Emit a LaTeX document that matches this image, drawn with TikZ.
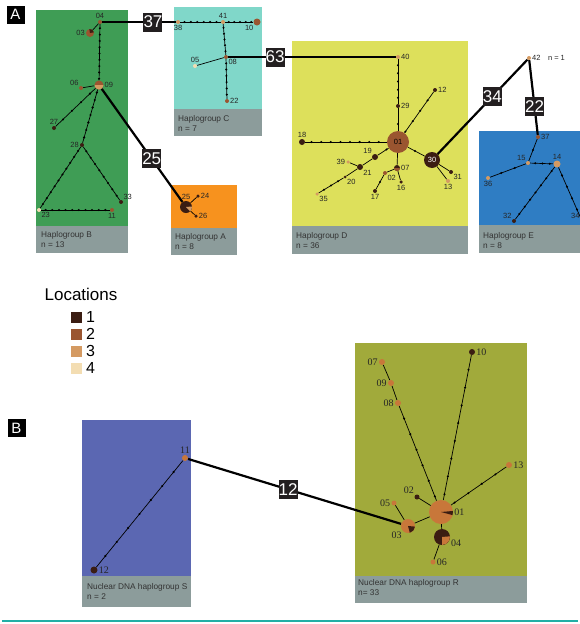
\documentclass[tikz,border=0pt]{standalone}
\usepackage{fontspec}
\setmainfont{Liberation Sans}
\newfontfamily\nucfont{Liberation Serif}
\usetikzlibrary{calc,backgrounds}

\definecolor{loc1}{HTML}{3B1D12}
\definecolor{loc2}{HTML}{9A5530}
\definecolor{loc3}{HTML}{D49A62}
\definecolor{loc4}{HTML}{F3DDB2}
\definecolor{nucor}{HTML}{C8773A}
\definecolor{grpA}{HTML}{F7921E}
\definecolor{grpB}{HTML}{3F9D55}
\definecolor{grpC}{HTML}{80D7C9}
\definecolor{grpD}{HTML}{DDE05B}
\definecolor{grpE}{HTML}{2F7DC3}
\definecolor{grpS}{HTML}{5B67B2}
\definecolor{grpR}{HTML}{A1AA3B}
\definecolor{capgrey}{HTML}{8C9C9B}
\definecolor{boxdark}{HTML}{231F20}
\definecolor{footteal}{HTML}{22AFA6}

\tikzset{
  hap/.style={circle, inner sep=0pt, minimum size=#1},
  hap/.default=4pt,
  lab/.style={font=\fontsize{7.5}{8}\selectfont, text=black!85, inner sep=0.8pt},
  nlab/.style={font=\nucfont\fontsize{10}{10}\selectfont, text=black!85, inner sep=1pt},
  link/.style={line width=0.7pt},
  biglink/.style={line width=2.2pt},
  mutbox/.style={fill=boxdark, text=white, font=\fontsize{17}{17}\selectfont, inner sep=0pt, minimum width=19pt, minimum height=19pt},
  grptxt/.style={anchor=west, align=left, font=\fontsize{8.3}{10}\selectfont, text=black!80, inner sep=0pt},
  legsq/.style={minimum size=11pt, inner sep=0pt},
  legtxt/.style={anchor=west, font=\fontsize{16}{16}\selectfont, inner sep=0pt},
  panel/.style={fill=black, text=white, font=\fontsize{15}{15}\selectfont, minimum size=18pt, inner sep=0pt}
}

% dots for the mutation steps on an edge
\newcommand\mutsteps[3]{\foreach \k in {1,...,#3}{\fill ($(#1)!{\k/(#3+1)}!(#2)$) circle (1.15pt);}}
% one slice of a pie node
\newcommand\piepart[5]{\fill[#5] (#1.center) -- ++(#2:#4) arc[start angle=#2, end angle=#3, radius=#4] -- cycle;}

\begin{document}
\begin{tikzpicture}[x=1pt,y=-1pt]
\useasboundingbox (0,0) rectangle (580,624);

\begin{pgfonlayer}{background}
  \fill[white] (0,0) rectangle (580,624);
  % haplogroup boxes
  \fill[grpB] (36,10) rectangle (128,226);   \fill[capgrey] (36,226) rectangle (128,253);
  \fill[grpC] (174,7) rectangle (262,109);   \fill[capgrey] (174,109) rectangle (262,136);
  \fill[grpA] (171,185) rectangle (237,228); \fill[capgrey] (171,228) rectangle (237,255);
  \fill[grpD] (292,41) rectangle (468,226);  \fill[capgrey] (292,226) rectangle (468,254);
  \fill[grpE] (479,131) rectangle (590,225); \fill[capgrey] (479,225) rectangle (590,253);
  \fill[grpS] (82,420) rectangle (191,576);  \fill[capgrey] (82,576) rectangle (191,607);
  \fill[grpR] (355,343) rectangle (527,576); \fill[capgrey] (355,576) rectangle (527,603);
\end{pgfonlayer}

\node[panel] (pA) at (15.5,14.5) {A};
\node[panel] (pB) at (16.5,428) {B};

% haplogroup B
\node[hap, fill=loc2, label={[lab]above:04}] (B04) at (100,22) {};
\node[hap=8pt, fill=loc2, label={[lab]left:03}] (B03) at (90,33) {};
\node[hap=9pt, fill=loc2, label={[lab]right:09}] (B09) at (99,85) {};
\node[hap, fill=loc2, label={[lab]above left:06}] (B06) at (81,88) {};
\node[hap, fill=loc1, label={[lab]above:27}] (B27) at (54,128) {};
\node[hap, fill=loc1, label={[lab]left:28}] (B28) at (82,145) {};
\node[hap, fill=loc4, label={[lab]below right:23}] (B23) at (39,210) {};
\node[hap, fill=loc2, label={[lab]below:11}] (B11) at (112,210) {};
\node[hap, fill=loc1, label={[lab]above right:33}] (B33) at (121,202) {};
\node[grptxt] (capB) at (41,240) {Haplogroup B\\n = 13};

% haplogroup C
\node[hap, fill=loc3, label={[lab]below:38}] (C38) at (178,22) {};
\node[hap, fill=loc3, label={[lab]above:41}] (C41) at (223,22) {};
\node[hap=7pt, fill=loc2, label={[lab]below left:10}] (C10) at (257,22) {};
\node[hap, fill=loc2, label={[lab]below right:08}] (C08) at (226,57) {};
\node[hap, fill=loc4, label={[lab]above:05}] (C05) at (195,66) {};
\node[hap, fill=loc2, label={[lab]right:22}] (C22) at (227,101) {};
\node[grptxt] (capC) at (178,123) {Haplogroup C\\n = 7};

% haplogroup A
\node[hap=12pt, fill=loc1, label={[lab]above:25}] (A25) at (186,207) {};
\node[hap=3.5pt, fill=loc1, label={[lab]right:24}] (A24) at (198,196) {};
\node[hap=3.5pt, fill=loc1, label={[lab]right:26}] (A26) at (196,216) {};
\node[grptxt] (capA) at (175,242) {Haplogroup A\\n = 8};

% haplogroup D
\node[hap, fill=loc3, label={[lab]right:40}] (D40) at (398,57) {};
\node[hap, fill=loc1, label={[lab]right:29}] (D29) at (398,106) {};
\node[hap, fill=loc1, label={[lab]right:12}] (D12) at (435,90) {};
\node[hap=6pt, fill=loc1, label={[lab]above:18}] (D18) at (302,142) {};
\node[hap=22pt, fill=loc2, font=\fontsize{7.5}{8}\selectfont] (D01) at (398,142) {01};
\node[hap=6pt, fill=loc1, label={[lab]above left:19}] (D19) at (375,157) {};
\node[hap=6pt, fill=loc1, label={[lab]below right:21}] (D21) at (360,167) {};
\node[hap=3.5pt, fill=loc3, label={[lab]left:39}] (D39) at (348,162) {};
\node[hap=3pt, fill=loc1, label={[lab]below right:20}] (D20) at (345,177) {};
\node[hap=3.5pt, fill=loc3, label={[lab]below right:35}] (D35) at (317,194) {};
\node[hap=6pt, fill=loc1, label={[lab]right:07}] (D07) at (397,168) {};
\node[hap, fill=loc2, label={[lab]below right:02}] (D02) at (385,173) {};
\node[hap=3.5pt, fill=loc1, label={[lab]below:16}] (D16) at (401,182) {};
\node[hap, fill=loc1, label={[lab]below:17}] (D17) at (375,191) {};
\node[hap=16pt, fill=loc1, text=white, font=\fontsize{7.5}{8}\selectfont] (D30) at (432,160) {30};
\node[hap, fill=loc1, label={[lab]below right:31}] (D31) at (451,172) {};
\node[hap, fill=loc3, label={[lab]below:13}] (D13) at (448,181) {};
\node[grptxt] (capD) at (296,241) {Haplogroup D\\n = 36};

% haplogroup E
\node[hap, fill=loc3, label={[lab]right:42}] (E42) at (529,58) {};
\node[lab, anchor=west] (n42) at (547,58) {n = 1};
\node[hap, fill=loc2, label={[lab]right:37}] (E37) at (538,137) {};
\node[hap, fill=loc3, label={[lab]above left:15}] (E15) at (528,163) {};
\node[hap=7pt, fill=loc3, label={[lab]above:14}] (E14) at (557,164) {};
\node[hap, fill=loc3, label={[lab]below:36}] (E36) at (488,178) {};
\node[hap, fill=loc1, label={[lab]above left:32}] (E32) at (514,221) {};
\node[hap, fill=loc1, label={[lab]above left:34}] (E34) at (582,221) {};
\node[grptxt] (capE) at (483,241) {Haplogroup E\\n = 8};

% legend
\node[font=\fontsize{17}{17}\selectfont, inner sep=0pt] (legT) at (81,294) {Locations};
\node[legsq, fill=loc1] (k1) at (76,317) {};
\node[legsq, fill=loc2] (k2) at (76,334) {};
\node[legsq, fill=loc3] (k3) at (76,351) {};
\node[legsq, fill=loc4] (k4) at (76,368) {};
\node[legtxt] (t1) at (86,317) {1};
\node[legtxt] (t2) at (86,334) {2};
\node[legtxt] (t3) at (86,351) {3};
\node[legtxt] (t4) at (86,368) {4};

% nuclear haplogroup S
\node[hap=6pt, fill=nucor, label={[nlab]above:11}] (S11) at (185,458) {};
\node[hap=7pt, fill=loc1, label={[nlab]right:12}] (S12) at (94,570) {};
\node[grptxt] (capS) at (87,591) {Nuclear DNA haplogroup S\\n = 2};

% nuclear haplogroup R
\node[hap=6pt, fill=nucor, label={[nlab]left:07}] (R07) at (382,362) {};
\node[hap=6pt, fill=nucor, label={[nlab]left:09}] (R09) at (391,383) {};
\node[hap=6pt, fill=nucor, label={[nlab]left:08}] (R08) at (398,403) {};
\node[hap=6pt, fill=loc1, label={[nlab]right:10}] (R10) at (472,352) {};
\node[hap=6pt, fill=nucor, label={[nlab]right:13}] (R13) at (509,465) {};
\node[hap=24pt, fill=nucor, label={[nlab]right:01}] (R01) at (441,512) {};
\node[hap=5pt, fill=loc1, label={[nlab]above left:02}] (R02) at (417,497) {};
\node[hap=5pt, fill=nucor, label={[nlab]left:05}] (R05) at (394,503) {};
\node[hap=14pt, fill=nucor, label={[nlab]below left:03}] (R03) at (408,526) {};
\node[hap=16pt, fill=loc1, label={[nlab]-15:04}] (R04) at (442,537) {};
\node[hap=5pt, fill=nucor, label={[nlab]right:06}] (R06) at (433,562) {};
\node[grptxt] (capR) at (358,588) {Nuclear DNA haplogroup R\\n= 33};

% pies
\piepart{B03}{-100}{-10}{4}{loc1}
\piepart{B09}{0}{180}{4.5}{loc3}
\piepart{A25}{-5}{45}{6}{loc3}
\piepart{D07}{0}{180}{3}{loc2}
\piepart{R01}{-5}{15}{12}{loc1}
\piepart{R03}{5}{75}{7}{loc1}
\piepart{R04}{-5}{90}{8}{nucor}

\begin{pgfonlayer}{background}
  % network B
  \draw[link] (B04) -- (B03);
  \draw[link] (B04) -- (B09);  \mutsteps{B04}{B09}{9}
  \draw[link] (B09) -- (B06);
  \draw[link] (B09) -- (B27);  \mutsteps{B09}{B27}{4}
  \draw[link] (B09) -- (B28);  \mutsteps{B09}{B28}{7}
  \draw[link] (B28) -- (B23);  \mutsteps{B28}{B23}{10}
  \draw[link] (B28) -- (B33);  \mutsteps{B28}{B33}{8}
  \draw[link] (B23) -- (B11);  \mutsteps{B23}{B11}{10}
  % network C
  \draw[link] (C38) -- (C41);  \mutsteps{C38}{C41}{6}
  \draw[link] (C41) -- (C10);  \mutsteps{C41}{C10}{5}
  \draw[link] (C41) -- (C08);  \mutsteps{C41}{C08}{5}
  \draw[link] (C08) -- (C05);
  \draw[link] (C08) -- (C22);  \mutsteps{C08}{C22}{6}
  % network A
  \draw[link] (A25) -- (A24);
  \draw[link] (A25) -- (A26);
  % network D
  \draw[link] (D40) -- (D29);  \mutsteps{D40}{D29}{5}
  \draw[link] (D29) -- (D01);  \mutsteps{D29}{D01}{1}
  \draw[link] (D01) -- (D12);  \mutsteps{D01}{D12}{4}
  \draw[link] (D18) -- (D01);  \mutsteps{D18}{D01}{9}
  \draw[link] (D01) -- (D19);  \mutsteps{D01}{D19}{1}
  \draw[link] (D19) -- (D21);
  \draw[link] (D21) -- (D39);
  \draw[link] (D21) -- (D20);
  \draw[link] (D20) -- (D35);  \mutsteps{D20}{D35}{3}
  \draw[link] (D01) -- (D07);
  \draw[link] (D07) -- (D02);
  \draw[link] (D07) -- (D16);
  \draw[link] (D02) -- (D17);  \mutsteps{D02}{D17}{1}
  \draw[link] (D01) -- (D30);  \mutsteps{D01}{D30}{1}
  \draw[link] (D30) -- (D31);
  \draw[link] (D30) -- (D13);
  % network E
  \draw[link] (E37) -- (E15);  \mutsteps{E37}{E15}{1}
  \draw[link] (E15) -- (E14);  \mutsteps{E15}{E14}{3}
  \draw[link] (E15) -- (E36);  \mutsteps{E15}{E36}{2}
  \draw[link] (E14) -- (E32);  \mutsteps{E14}{E32}{7}
  \draw[link] (E14) -- (E34);  \mutsteps{E14}{E34}{4}
  % nuclear networks
  \draw[link] (S11) -- (S12);  \mutsteps{S11}{S12}{7}
  \draw[link] (R07) -- (R09);
  \draw[link] (R09) -- (R08);
  \draw[link] (R08) -- (R01);  \mutsteps{R08}{R01}{6}
  \draw[link] (R10) -- (R01);  \mutsteps{R10}{R01}{8}
  \draw[link] (R13) -- (R01);  \mutsteps{R13}{R01}{4}
  \draw[link] (R02) -- (R01);
  \draw[link] (R05) -- (R03);
  \draw[link] (R03) -- (R01);
  \draw[link] (R01) -- (R04);
  \draw[link] (R04) -- (R06);
  % links between haplogroups
  \draw[biglink] (B04) -- (C38) node[mutbox, pos=0.69] {37};
  \draw[biglink] (B09) -- (A25) node[mutbox, pos=0.62] {25};
  \draw[biglink] (C08) -- (D40) node[mutbox, pos=0.28] {63};
  \draw[biglink] (D30) -- (E42) node[mutbox, pos=0.61] {34};
  \draw[biglink] (E42) -- (E37) node[mutbox, pos=0.62] {22};
  \draw[biglink] (S11) -- (R03) node[mutbox, pos=0.47] {12};
\end{pgfonlayer}

\coordinate (fl) at (2,621);
\coordinate (fr) at (578,621);
\draw[footteal, line width=1.5pt] (fl) -- (fr);
\end{tikzpicture}
\end{document}
